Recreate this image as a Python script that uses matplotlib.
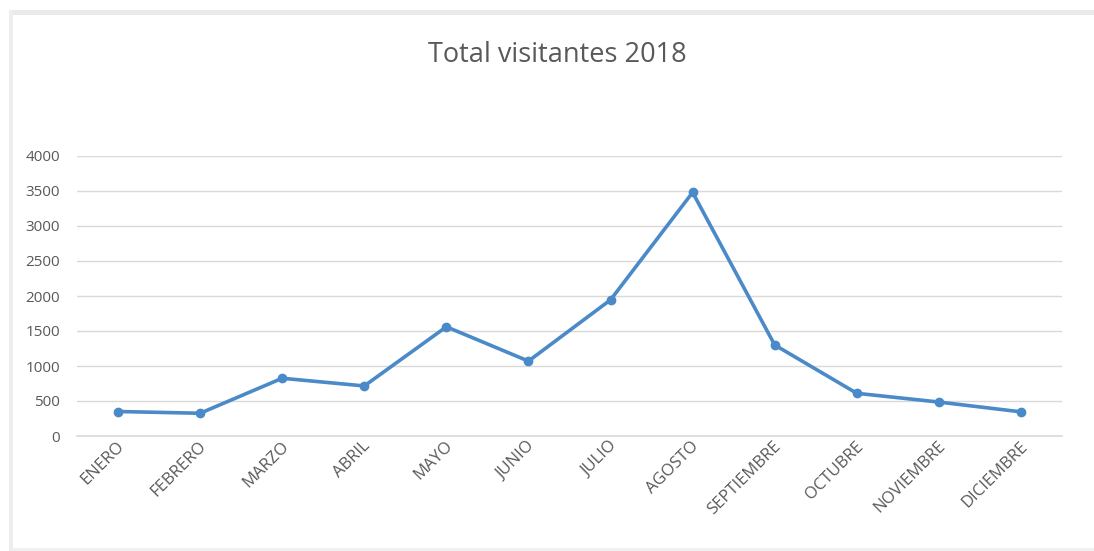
import matplotlib
matplotlib.use("Agg")
import matplotlib.pyplot as plt
import matplotlib.transforms as mtransforms
from matplotlib.patches import Rectangle

months = ["ENERO", "FEBRERO", "MARZO", "ABRIL", "MAYO", "JUNIO", "JULIO",
          "AGOSTO", "SEPTIEMBRE", "OCTUBRE", "NOVIEMBRE", "DICIEMBRE"]
visitors = [350, 325, 825, 715, 1560, 1070, 1945, 3480, 1300, 610, 485, 345]
y_ticks = [0, 500, 1000, 1500, 2000, 2500, 3000, 3500, 4000]
title = "Total visitantes 2018"

W, H, DPI = 1094, 551, 100
fig = plt.figure(figsize=(W / DPI, H / DPI), dpi=DPI)
fig.patch.set_facecolor("white")

# light grey frame along the top, left and bottom of the chart area
fig.add_artist(Rectangle((9 / W, 0), 1 - 9 / W, 3 / H, transform=fig.transFigure,
                         facecolor="#F0F0F0", edgecolor="none"))
fig.add_artist(Rectangle((9 / W, 1 - 15 / H), 1 - 9 / W, 5 / H, transform=fig.transFigure,
                         facecolor="#EAEAEA", edgecolor="none"))
fig.add_artist(Rectangle((9 / W, 0), 4 / W, 1 - 10 / H, transform=fig.transFigure,
                         facecolor="#EEEEEE", edgecolor="none"))

left, right = 77 / W, 1062 / W
bottom, top = 1 - 436 / H, 1 - 156 / H
ax = fig.add_axes([left, bottom, right - left, top - bottom])

x = list(range(len(months)))
ax.plot(x, visitors, color="#4A8AC8", linewidth=2.6, marker="o",
        markersize=6, markerfacecolor="#4A8AC8", markeredgecolor="#4A8AC8",
        solid_joinstyle="round", zorder=3)

ax.set_xlim(-0.5, len(months) - 0.5)
ax.set_ylim(0, 4000)
ax.set_yticks(y_ticks)
ax.set_yticklabels([str(v) for v in y_ticks], fontsize=11, color="#595959",
                   family="Open Sans")
ax.yaxis.grid(True, color="#D9D9D9", linewidth=1.0)
ax.axhline(0, color="#D9D9D9", linewidth=1.2, clip_on=False, zorder=1)
ax.set_axisbelow(True)
for s in ax.spines.values():
    s.set_visible(False)
ax.tick_params(axis="both", length=0)
ax.tick_params(axis="y", pad=12)

ax.set_xticks(x)
ax.set_xticklabels(months, rotation=45, ha="right", va="center",
                   rotation_mode="anchor", fontsize=12, color="#595959",
                   family="Open Sans")
offset = mtransforms.ScaledTranslation(4 / DPI, -3 / DPI, fig.dpi_scale_trans)
for lbl in ax.get_xticklabels():
    lbl.set_transform(lbl.get_transform() + offset)

fig.text(0.509, 1 - 55 / H, title, ha="center", va="center", fontsize=19.5,
         color="#595959", family="Open Sans")

fig.savefig("out.png", dpi=DPI)
